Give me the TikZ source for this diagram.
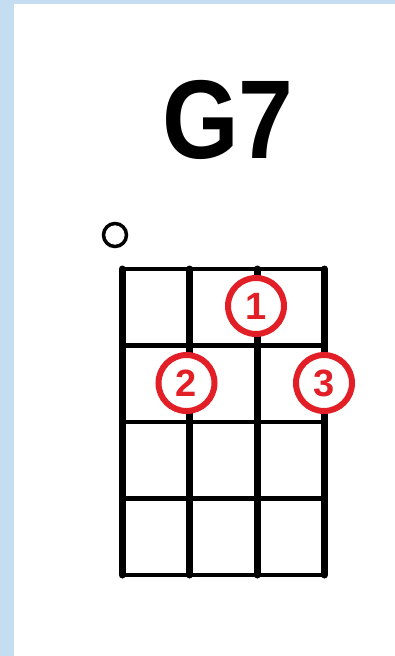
\documentclass[tikz,border=0pt]{standalone}
\usepackage{fontspec}
\setmainfont{Liberation Sans}
\definecolor{cardblue}{RGB}{197,221,240}
\definecolor{fingerred}{RGB}{226,30,38}
\tikzset{
  stringline/.style={line width=7pt,line cap=round},
  fretline/.style={line width=4.5pt,line cap=round},
  fingerdot/.style={circle,draw=fingerred,line width=6pt,fill=white,minimum size=56pt,inner sep=0pt,
    text=fingerred,font=\fontsize{38}{38}\selectfont\bfseries},
  opendot/.style={circle,draw,line width=3.5pt,minimum size=23pt,inner sep=0pt},
}

\begin{document}
\begin{tikzpicture}[x=1pt,y=-1pt]
\fill[cardblue](0,0)rectangle(395,656);\fill[white](14,4)rectangle(395,656);
\useasboundingbox(0,0)rectangle(395,656);
\node[anchor=base,font=\fontsize{112}{112}\selectfont\bfseries,xscale=.88](title)at(228,158){G7};
% strings and frets
\foreach \s/\x in {1/122,2/189.5,3/257,4/324.5}{\coordinate(s\s top)at(\x,269);\coordinate(s\s bot)at(\x,575);\draw[stringline](s\s top)--(s\s bot);}
\foreach \f/\y in {0/269,1/345.5,2/422,3/498.5,4/575}{\coordinate(f\f l)at(122,\y);\coordinate(f\f r)at(324.5,\y);\draw[fretline](f\f l)--(f\f r);}
\node[opendot](open1)at(115,235){};
\node[fingerdot](finger1)at(256,306){1};
\node[fingerdot](finger2)at(186.5,383){2};
\node[fingerdot](finger3)at(324,383){3};
\end{tikzpicture}
\end{document}
